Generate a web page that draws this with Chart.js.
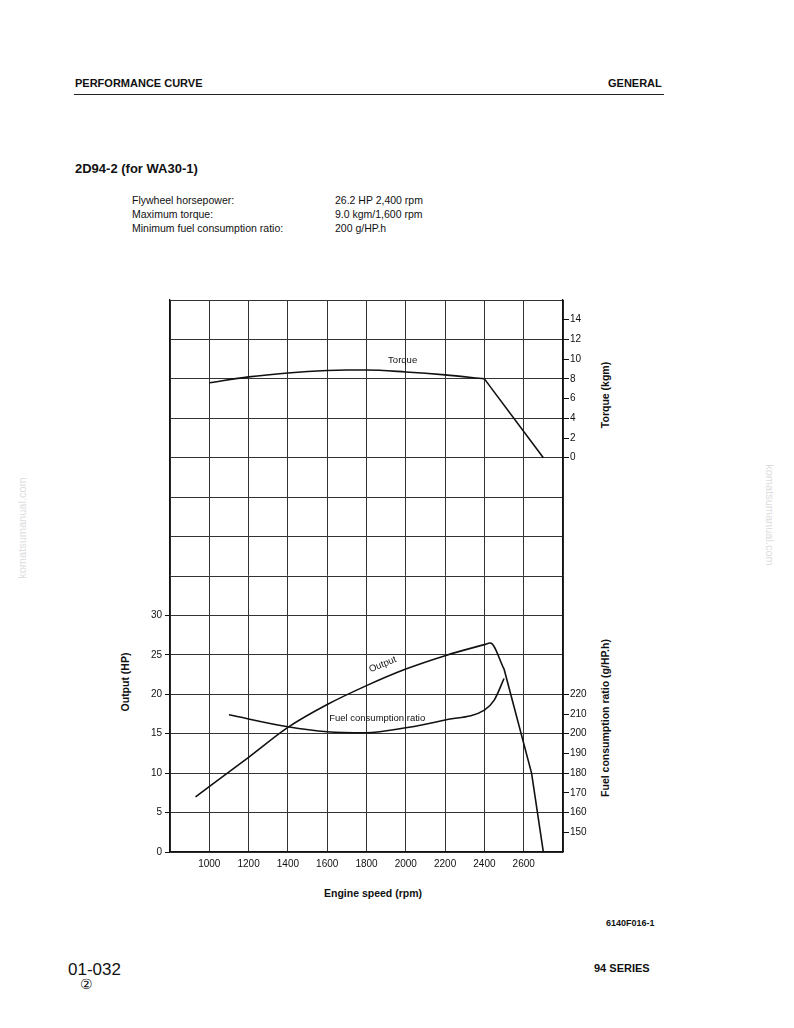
<!DOCTYPE html>
<html><head><meta charset="utf-8">
<script src="https://cdn.jsdelivr.net/npm/chart.js@4"></script>
<style>
body{margin:0;background:#fff;font-family:"Liberation Sans",Arial,sans-serif;color:#111;}
.a{position:absolute;white-space:nowrap;}
.b{font-weight:bold;}
</style></head><body>
<div class="a b" style="left:75px;top:77px;font-size:11px;">PERFORMANCE CURVE</div>
<div class="a b" style="left:608px;top:77px;font-size:11px;">GENERAL</div>
<div class="a" style="left:74px;top:94px;width:590px;border-top:1.5px solid #222;"></div>
<div class="a b" style="left:75px;top:161px;font-size:13px;">2D94-2 (for WA30-1)</div>
<div class="a" style="left:132px;top:193px;font-size:10.5px;line-height:14px;">Flywheel horsepower:<br>Maximum torque:<br>Minimum fuel consumption ratio:</div>
<div class="a" style="left:335px;top:193px;font-size:10.5px;line-height:14px;">26.2 HP 2,400 rpm<br>9.0 kgm/1,600 rpm<br>200 g/HP.h</div>
<div class="a" style="left:22px;top:528px;font-size:11px;color:#ddd;transform:translate(-50%,-50%) rotate(-90deg);">komatsumanual.com</div>
<div class="a" style="left:770px;top:515px;font-size:11px;color:#ddd;transform:translate(-50%,-50%) rotate(90deg);">komatsumanual.com</div>
<div class="a b" style="left:125px;top:682px;font-size:10.5px;transform:translate(-50%,-50%) rotate(-90deg);">Output (HP)</div>
<div class="a b" style="left:605px;top:395px;font-size:10.5px;transform:translate(-50%,-50%) rotate(-90deg);">Torque (kgm)</div>
<div class="a b" style="left:605px;top:718px;font-size:10.5px;transform:translate(-50%,-50%) rotate(-90deg);">Fuel consumption ratio (g/HP.h)</div>
<div class="a b" style="left:324px;top:887px;font-size:10.5px;">Engine speed (rpm)</div>
<div class="a b" style="left:606px;top:918px;font-size:9px;">6140F016-1</div>
<div class="a" style="left:68px;top:960px;font-size:17px;">01-032</div>
<div class="a" style="left:80px;top:976px;font-size:14px;">②</div>
<div class="a b" style="left:594px;top:962px;font-size:11px;">94 SERIES</div>
<div class="a" style="left:100px;top:280px;width:540px;height:630px;"><canvas id="c" width="540" height="630"></canvas></div>
<script>
const rpmTorque=[1000,1200,1400,1600,1700,1800,2000,2200,2400];
const torque=[7.6,8.2,8.6,8.85,8.9,8.9,8.7,8.4,8.0];
const rpmTorqueDrop=[2400,2700];
const torqueDrop=[8.0,0];
const rpmOutput=[930,1200,1400,1600,1800,2000,2200,2400,2430,2500];
const output=[7.0,12.0,15.8,18.7,21.1,23.2,24.9,26.3,26.5,23.2];
const rpmOutputDrop=[2500,2640,2700];
const outputDrop=[23.2,10.0,0];
const rpmFuel=[1100,1400,1600,1800,2000,2200,2400,2450,2500];
const fuel=[209.6,203.5,201,200.5,203,207,212,217,228];
const rpmTicks=[1000,1200,1400,1600,1800,2000,2200,2400,2600];
const outputTicks=[0,5,10,15,20,25,30];
const torqueTicks=[0,2,4,6,8,10,12,14];
const fuelTicks=[150,160,170,180,190,200,210,220];
const pts=(xs,ys)=>xs.map((x,i)=>({x,y:ys[i]}));
const line={borderColor:'#111',borderWidth:1.6,pointRadius:0,tension:0.35,fill:false,cubicInterpolationMode:'monotone',showLine:true};
const straight={...line,tension:0,cubicInterpolationMode:'default'};
const labels={id:'labels',afterDatasetsDraw(ch){
 const c=ch.ctx,x=ch.scales.x;c.save();c.fillStyle='#111';c.font='9.5px "Liberation Sans",Arial';
 c.fillText('Torque',x.getPixelForValue(1910),ch.scales.yT.getPixelForValue(9.6));
 c.fillText('Fuel consumption ratio',x.getPixelForValue(1610),ch.scales.yF.getPixelForValue(206.5));
 c.translate(x.getPixelForValue(1820),ch.scales.y.getPixelForValue(22.8));c.rotate(-0.38);c.fillText('Output',0,0);
 c.restore();}};
new Chart(document.getElementById('c'),{type:'scatter',
 data:{datasets:[
  {...line,data:pts(rpmTorque,torque),yAxisID:'yT'},
  {...straight,data:pts(rpmTorqueDrop,torqueDrop),yAxisID:'yT'},
  {...line,data:pts(rpmOutput,output),yAxisID:'y'},
  {...straight,data:pts(rpmOutputDrop,outputDrop),yAxisID:'y'},
  {...line,data:pts(rpmFuel,fuel),yAxisID:'yF'}]},
 options:{animation:false,responsive:false,layout:{padding:{top:20}},
  plugins:{legend:{display:false},tooltip:{enabled:false}},
  scales:{
   x:{type:'linear',min:800,max:2800,afterBuildTicks:a=>{a.ticks=[800,...rpmTicks,2800].map(v=>({value:v}));},
      afterFit:a=>{a.height=58;},border:{color:'#111',width:1.3},
      grid:{color:'#333',lineWidth:1,drawTicks:false},
      ticks:{padding:6,color:'#111',font:{size:10,family:'"Liberation Sans",Arial'},callback:v=>rpmTicks.includes(v)?v:''}},
   y:{position:'left',min:0,max:70,afterBuildTicks:a=>{const t=[];for(let v=0;v<=70;v+=5)t.push({value:v});a.ticks=t;},
      afterFit:a=>{a.width=70;},border:{color:'#111',width:1.3},
      grid:{color:'#333',lineWidth:1,tickLength:5,tickColor:c=>outputTicks.includes(c.tick.value)?'#111':'transparent'},
      ticks:{color:'#111',padding:3,font:{size:10,family:'"Liberation Sans",Arial'},callback:v=>outputTicks.includes(v)?v:''}},
   yR:{position:'right',min:0,max:70,afterBuildTicks:a=>{const t=[];for(let v=0;v<=70;v+=2.5)t.push({value:v});a.ticks=t;},
      afterFit:a=>{a.width=77;},border:{color:'#111',width:1.3},
      grid:{drawOnChartArea:false,tickLength:6,tickColor:c=>{const v=c.tick.value;return ((v>=2.5&&v<=20)||(v>=50&&v<=67.5))?'#111':'transparent';}},
      ticks:{color:'#111',padding:1,font:{size:10,family:'"Liberation Sans",Arial'},
       callback:v=>{if(v>=50&&v<=67.5)return String(torqueTicks[Math.round((v-50)/2.5)]);if(v>=2.5&&v<=20)return String(fuelTicks[Math.round(v/2.5)-1]);return '';}}},
   yT:{display:false,min:-40,max:16},
   yF:{display:false,min:140,max:420}}},
 plugins:[labels]});
</script></body></html>
